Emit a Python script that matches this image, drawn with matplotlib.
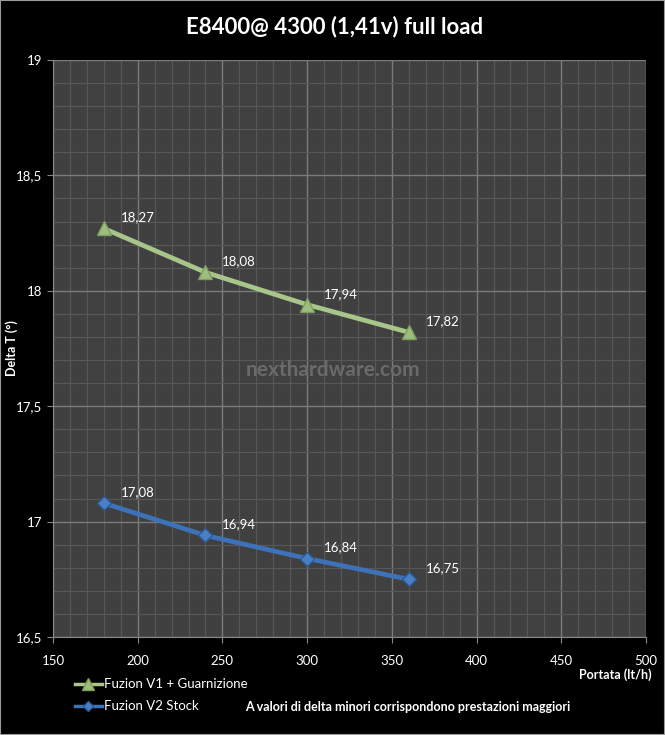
import matplotlib
matplotlib.use("Agg")
import matplotlib.pyplot as plt
from matplotlib.ticker import MultipleLocator, FuncFormatter
from matplotlib.lines import Line2D

plt.rcParams['font.family'] = ['Lato', 'DejaVu Sans']

portata = [180, 240, 300, 360]
v1_guarnizione = [18.27, 18.08, 17.94, 17.82]
v2_stock = [17.08, 16.94, 16.84, 16.75]
series_names = ["Fuzion V1 + Guarnizione", "Fuzion V2 Stock"]
title = "E8400@ 4300 (1,41v) full load"
note = "A valori di delta minori corrispondono prestazioni maggiori"

fig = plt.figure(figsize=(6.65, 7.35), dpi=100, facecolor='black')
fig.patches.append(plt.Rectangle((0, 0), 1, 1, transform=fig.transFigure,
                                 fill=False, edgecolor='#9a9a9a', lw=1.5))
ax = fig.add_axes([53/665, 1-637/735, 593/665, 577/735])
ax.set_facecolor('#404040')

ax.set_xlim(150, 500)
ax.set_ylim(16.5, 19)
ax.xaxis.set_major_locator(MultipleLocator(50))
ax.xaxis.set_minor_locator(MultipleLocator(10))
ax.yaxis.set_major_locator(MultipleLocator(0.5))
ax.yaxis.set_minor_locator(MultipleLocator(0.1))
ax.grid(which='major', color='#7a7a7a', lw=1.0)
ax.grid(which='minor', color='#575757', lw=0.9)
ax.set_axisbelow(True)
for s in ax.spines.values():
    s.set_visible(False)
ax.spines['left'].set_visible(True)
ax.spines['bottom'].set_visible(True)
ax.spines['left'].set_color('#888888')
ax.spines['bottom'].set_color('#888888')

fmt = FuncFormatter(lambda v, p: (f"{v:g}").replace('.', ','))
ax.yaxis.set_major_formatter(fmt)
ax.tick_params(which='major', colors='white', labelsize=9.5, length=4, color='#888888')
ax.tick_params(which='minor', length=0)
ax.tick_params(axis='x', pad=9)

green = '#a8c68a'
blue = '#3e72b8'
ax.plot(portata, v1_guarnizione, color=green, lw=3.4, marker='^', ms=10,
        markerfacecolor='#9cbd7c', markeredgecolor='#7e9e60', zorder=3)
ax.plot(portata, v2_stock, color=blue, lw=3.4, marker='D', ms=7.5,
        markerfacecolor='#4a7fc6', markeredgecolor='#2c5a96', zorder=3)

for x, y in zip(portata, v1_guarnizione):
    ax.annotate(f"{y:.2f}".replace('.', ','), (x, y), xytext=(12, 5),
                textcoords='offset points', color='white', fontsize=9.5)
for x, y in zip(portata, v2_stock):
    ax.annotate(f"{y:.2f}".replace('.', ','), (x, y), xytext=(12, 5),
                textcoords='offset points', color='white', fontsize=9.5)

fig.text(333/665, 1-370/735, "nexthardware.com", ha='center',
         va='center', color='#6a6a6a', fontsize=15, fontweight='bold')

fig.text(335/665, 1-27/735, title, ha='center', va='center', color='white',
         fontsize=16, fontweight='bold')
fig.text(12/665, 1-348/735, "Delta T (°)", rotation=90, ha='center', va='center',
         color='white', fontsize=9, fontweight='bold')
fig.text(652/665, 1-675/735, "Portata (lt/h)", ha='right', va='center',
         color='white', fontsize=9, fontweight='bold')
fig.text(245/665, 1-707/735, note, ha='left', va='center',
         color='white', fontsize=9, fontweight='bold')

handles = [Line2D([], [], color=green, lw=2.5, marker='^', ms=8,
                  markerfacecolor='#9cbd7c', markeredgecolor='#7e9e60'),
           Line2D([], [], color=blue, lw=2.5, marker='D', ms=5,
                  markerfacecolor='#4a7fc6', markeredgecolor='#2c5a96')]
leg = fig.legend(handles, series_names, loc='upper left',
                 bbox_to_anchor=(70/665, 1-673/735), frameon=False,
                 labelcolor='white', fontsize=9.5, handlelength=2.0,
                 handletextpad=0.2, labelspacing=0.75, borderaxespad=0)

fig.savefig("out.png", dpi=100, facecolor='black')
